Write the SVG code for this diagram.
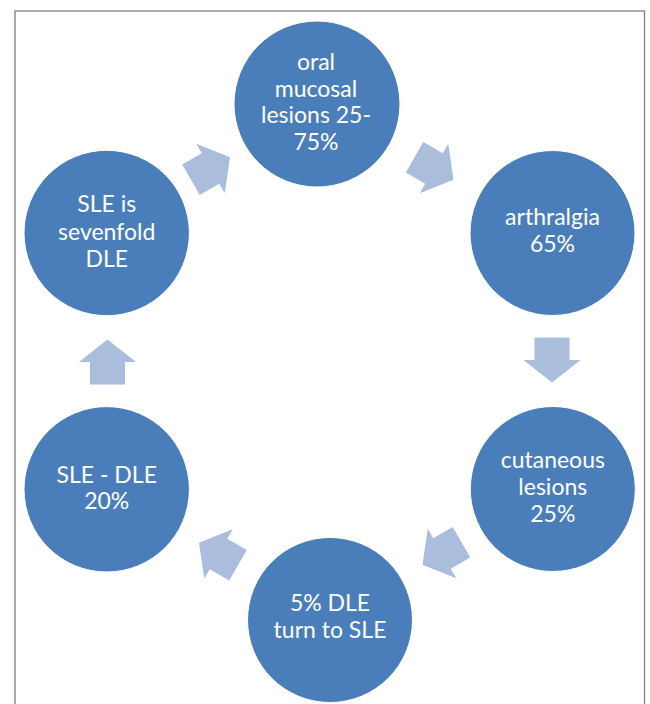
<svg xmlns="http://www.w3.org/2000/svg" width="650" height="704" viewBox="0 0 650 704">
  <style>
    .node circle { fill: #4A7EBB; stroke: #ffffff; stroke-width: 1; }
    .node text { fill: #ffffff; font-family: Lato, "Open Sans", "Liberation Sans", sans-serif; font-size: 23px; text-anchor: middle; }
    .arrow { fill: #ABBDDC; }
    .frame { fill: none; stroke: #808080; stroke-width: 1.3; }
  </style>
  <defs>
    <path id="arr" d="M-22.5,-17.5 H0 V-28.5 L22.5,0 L0,28.5 V17.5 H-22.5 Z"/>
  </defs>
  <rect width="650" height="704" fill="#ffffff"/>
  <rect class="frame" x="15" y="11" width="629.5" height="720"/>

  <g id="connectors">
    <use href="#arr" class="arrow" transform="translate(210.5,168.5) rotate(-30)"/>
    <use href="#arr" class="arrow" transform="translate(434,168.5) rotate(30)"/>
    <use href="#arr" class="arrow" transform="translate(552,360) rotate(90)"/>
    <use href="#arr" class="arrow" transform="translate(442,553.5) rotate(150)"/>
    <use href="#arr" class="arrow" transform="translate(218.5,554) rotate(210)"/>
    <use href="#arr" class="arrow" transform="translate(107.5,362) rotate(270)"/>
  </g>

  <g id="node-oral" class="node">
    <circle cx="317" cy="104" r="83"/>
    <text x="316" y="70">oral</text>
    <text x="316" y="96.7">mucosal</text>
    <text x="316" y="123.4">lesions 25-</text>
    <text x="316" y="150">75%</text>
  </g>
  <g id="node-arthralgia" class="node">
    <circle cx="552.5" cy="233" r="82.5"/>
    <text x="552.5" y="225">arthralgia</text>
    <text x="552.5" y="251.7">65%</text>
  </g>
  <g id="node-cutaneous" class="node">
    <circle cx="552.8" cy="489" r="82.5"/>
    <text x="552.8" y="468.3">cutaneous</text>
    <text x="552.8" y="495">lesions</text>
    <text x="552.8" y="521.7">25%</text>
  </g>
  <g id="node-turn" class="node">
    <circle cx="330" cy="620" r="82.5"/>
    <text x="330" y="611.3">5% DLE</text>
    <text x="330" y="638">turn to SLE</text>
  </g>
  <g id="node-sle-dle" class="node">
    <circle cx="106.7" cy="489.3" r="82.7"/>
    <text x="106.7" y="482.7">SLE - DLE</text>
    <text x="106.7" y="509.3">20%</text>
  </g>
  <g id="node-sevenfold" class="node">
    <circle cx="106.7" cy="233" r="82.7"/>
    <text x="106.7" y="211.7">SLE is</text>
    <text x="106.7" y="240">sevenfold</text>
    <text x="106.7" y="266.7">DLE</text>
  </g>
</svg>
